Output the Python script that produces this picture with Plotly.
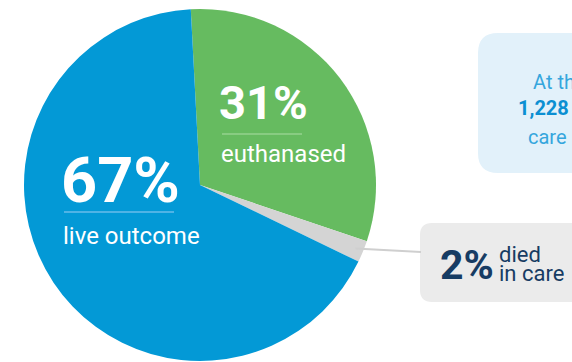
import math
import plotly.graph_objects as go

# Outcome shares (percent of animals leaving care)
outcomes = ["euthanased", "died in care", "live outcome"]
shares = [31, 2, 67]
slice_colors = ["#66bb60", "#d4d4d4", "#0399d6"]

W, H = 572, 362
CX, CY, R = 200, 185, 176
ROTATION = -3

NAVY = "#173c63"
FONT = "Roboto"

fig = go.Figure()
fig.add_trace(go.Pie(
    labels=outcomes,
    values=shares,
    sort=False,
    direction="clockwise",
    rotation=ROTATION,
    marker=dict(colors=slice_colors, line=dict(width=0)),
    textinfo="none",
    hoverinfo="label+percent",
    showlegend=False,
    domain=dict(x=[(CX - R) / W, (CX + R) / W],
                y=[(H - (CY + R)) / H, (H - (CY - R)) / H]),
))


def rounded_rect(x0, y0, x1, y1, r):
    return (f"M {x0 + r} {y0} L {x1 - r} {y0} Q {x1} {y0} {x1} {y0 + r} "
            f"L {x1} {y1 - r} Q {x1} {y1} {x1 - r} {y1} L {x0 + r} {y1} "
            f"Q {x0} {y1} {x0} {y1 - r} L {x0} {y0 + r} Q {x0} {y0} {x0 + r} {y0} Z")


# leader from the middle of the "died in care" wedge to its callout box
total = sum(shares)
mid_frac = (shares[0] + shares[1] / 2) / total
ang = math.radians(ROTATION + mid_frac * 360)
lx0 = CX + (R - 8) * math.sin(ang)
ly0 = CY - (R - 8) * math.cos(ang)

shapes = [
    dict(type="path", path=rounded_rect(478, 33, 660, 173, 20),
         fillcolor="#e2f1fa", line=dict(width=0), xref="x", yref="y"),
    dict(type="path", path=rounded_rect(420, 223, 640, 302, 12),
         fillcolor="#ebebeb", line=dict(width=0), xref="x", yref="y"),
    dict(type="line", x0=lx0, y0=ly0, x1=421, y1=252,
         line=dict(color="#cfcfcf", width=2), xref="x", yref="y"),
    dict(type="line", x0=64, y0=212, x1=174, y1=212,
         line=dict(color="#4fb3e5", width=2), xref="x", yref="y"),
    dict(type="line", x0=222, y0=134, x1=302, y1=134,
         line=dict(color="#88cc82", width=2), xref="x", yref="y"),
]


def label(text, x, y, size, color, bold=False, height=None):
    ann = dict(text=f"<b>{text}</b>" if bold else text, x=x, y=y,
               xref="x", yref="y", xanchor="left", yanchor="middle",
               showarrow=False, font=dict(family=FONT, size=size, color=color))
    if height is not None:
        ann["height"] = height
    return ann


annotations = [
    label(f"{shares[2]}%", 59, 180, 63, "white", bold=True),
    label(outcomes[2], 61, 236, 24, "white"),
    label(f"{shares[0]}%", 217, 102, 47, "white", bold=True),
    label(outcomes[0], 219, 154, 24, "white"),
    label(f"{shares[1]}%", 438, 265, 41, NAVY, bold=True),
    label("died", 497, 254, 22, NAVY, height=18),
    label("in care", 497, 273, 22, NAVY, height=18),
    label("At the end of the year,", 531, 82, 20, "#35a6dd"),
    label("1,228 animals remained in", 516, 108, 20, "#0b8fd2", bold=True),
    label("care awaiting adoption.", 526, 137, 20, "#35a6dd"),
]

fig.update_layout(
    width=W, height=H,
    margin=dict(l=0, r=0, t=0, b=0),
    paper_bgcolor="white", plot_bgcolor="rgba(0,0,0,0)",
    xaxis=dict(range=[0, W], visible=False, fixedrange=True),
    yaxis=dict(range=[H, 0], visible=False, fixedrange=True),
    shapes=shapes,
    annotations=annotations,
)

fig.write_html("out.html")
